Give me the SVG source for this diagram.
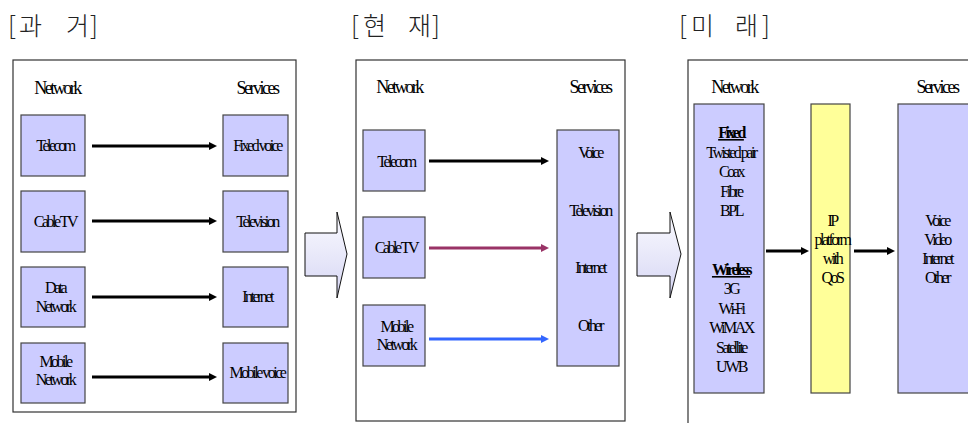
<svg xmlns="http://www.w3.org/2000/svg" width="968" height="423" viewBox="0 0 968 423">
  <defs>
    <linearGradient id="blockFill" x1="0" y1="0" x2="0" y2="1">
      <stop offset="0" stop-color="#fbfbff"/>
      <stop offset="1" stop-color="#d6d6f4"/>
    </linearGradient>
    <marker id="headBlack" markerUnits="userSpaceOnUse" markerWidth="9" markerHeight="9" refX="2" refY="4" orient="auto">
      <path d="M0,0 L8,4 L0,8 Z" fill="#000"/>
    </marker>
    <marker id="headMaroon" markerUnits="userSpaceOnUse" markerWidth="9" markerHeight="9" refX="2" refY="4" orient="auto">
      <path d="M0,0 L8,4 L0,8 Z" fill="#993366"/>
    </marker>
    <marker id="headBlue" markerUnits="userSpaceOnUse" markerWidth="9" markerHeight="9" refX="2" refY="4" orient="auto">
      <path d="M0,0 L8,4 L0,8 Z" fill="#3366ff"/>
    </marker>
  </defs>
  <style>
    .title { font-family: "Noto Sans CJK KR", "Liberation Serif", serif; font-size: 25px; font-weight: 300; fill: #222; }
    .panel { fill: #fff; stroke: #333; stroke-width: 1.2; }
    .box { fill: #ccccff; stroke: #444; stroke-width: 1.2; }
    .ybox { fill: #ffff99; stroke: #444; stroke-width: 1.2; }
    .block { fill: url(#blockFill); stroke: #111; stroke-width: 1; }
    .hd { font-family: "Liberation Serif", "Times New Roman", serif; font-size: 18px; letter-spacing: -2.5px; text-anchor: middle; fill: #000; }
    .t { font-family: "Liberation Serif", "Times New Roman", serif; font-size: 16px; letter-spacing: -2.5px; text-anchor: middle; fill: #000; }
    .b { font-weight: bold; text-decoration: underline; }
    .ln { fill: none; stroke-width: 3; }
  </style>

  <!-- section titles -->
  <text class="title" x="8 19 43 66 90" y="35">[과 거]</text>
  <text class="title" x="351 363 387 408 432" y="35">[현 재]</text>
  <text class="title" x="679 691 715 735 762" y="35">[미 래]</text>

  <!-- panel frames -->
  <g id="panel-past">
    <rect class="panel" x="13" y="60" width="283" height="352"/>
    <text class="hd" x="57" y="94">Network</text>
    <text class="hd" x="257" y="94">Services</text>
  </g>
  <g id="panel-present">
    <rect class="panel" x="356" y="60" width="269" height="361"/>
    <text class="hd" x="399" y="93">Network</text>
    <text class="hd" x="590" y="93">Services</text>
  </g>
  <g id="panel-future">
    <rect class="panel" x="688" y="60" width="320" height="400"/>
    <text class="hd" x="734" y="93">Network</text>
    <text class="hd" x="937" y="93">Services</text>
  </g>

  <!-- transition block arrows -->
  <g id="step-1">
    <path class="block" d="M305,233 H337 V212 L347,254 L337,298 V276 H305 Z"/>
  </g>
  <g id="step-2">
    <path class="block" d="M637,233 H670 V212 L681,254 L670,298 V276 H637 Z"/>
  </g>

  <!-- past: separate networks and services -->
  <g id="past-telecom">
    <rect class="box" x="21" y="115" width="64" height="61"/>
    <text class="t" x="55" y="151">Telecom</text>
  </g>
  <g id="past-cable">
    <rect class="box" x="21" y="191" width="64" height="61"/>
    <text class="t" x="55" y="227">Cable TV</text>
  </g>
  <g id="past-data">
    <rect class="box" x="21" y="267" width="64" height="60"/>
    <text class="t" x="55" y="293">Data</text>
    <text class="t" x="55" y="312">Network</text>
  </g>
  <g id="past-mobile">
    <rect class="box" x="21" y="343" width="64" height="60"/>
    <text class="t" x="55" y="367">Mobile</text>
    <text class="t" x="55" y="385">Network</text>
  </g>
  <g id="past-fixedvoice">
    <rect class="box" x="223" y="115" width="65" height="61"/>
    <text class="t" x="257" y="151">Fixed voice</text>
  </g>
  <g id="past-television">
    <rect class="box" x="223" y="191" width="65" height="61"/>
    <text class="t" x="257" y="227">Television</text>
  </g>
  <g id="past-internet">
    <rect class="box" x="223" y="267" width="65" height="60"/>
    <text class="t" x="257" y="302">Internet</text>
  </g>
  <g id="past-mobilevoice">
    <rect class="box" x="223" y="343" width="65" height="60"/>
    <text class="t" x="257" y="378">Mobile voice</text>
  </g>

  <!-- present: converging services -->
  <g id="present-telecom">
    <rect class="box" x="363" y="130" width="62" height="61"/>
    <text class="t" x="396" y="167">Telecom</text>
  </g>
  <g id="present-cable">
    <rect class="box" x="363" y="217" width="62" height="61"/>
    <text class="t" x="396" y="253">Cable TV</text>
  </g>
  <g id="present-mobile">
    <rect class="box" x="363" y="305" width="62" height="61"/>
    <text class="t" x="396" y="332">Mobile</text>
    <text class="t" x="396" y="350">Network</text>
  </g>
  <g id="present-services">
    <rect class="box" x="557" y="130" width="62" height="236"/>
    <text class="t" x="590" y="158">Voice</text>
    <text class="t" x="590" y="216">Television</text>
    <text class="t" x="590" y="273">Internet</text>
    <text class="t" x="590" y="331">Other</text>
  </g>

  <!-- future: IP platform -->
  <g id="future-network">
    <rect class="box" x="694" y="104" width="70" height="289"/>
    <text class="t b" x="731" y="138">Fixed</text>
    <text class="t" x="731" y="158">Twisted pair</text>
    <text class="t" x="731" y="177">Coax</text>
    <text class="t" x="731" y="197">Fibre</text>
    <text class="t" x="731" y="216">BPL</text>
    <text class="t b" x="731" y="275">Wireless</text>
    <text class="t" x="731" y="294">3G</text>
    <text class="t" x="731" y="314">Wi-Fi</text>
    <text class="t" x="731" y="333">WiMAX</text>
    <text class="t" x="731" y="353">Satellite</text>
    <text class="t" x="731" y="372">UWB</text>
  </g>
  <g id="future-ip">
    <rect class="ybox" x="811" y="104" width="39" height="289"/>
    <text class="t" x="832" y="226">IP</text>
    <text class="t" x="832" y="245">platform</text>
    <text class="t" x="832" y="264">with</text>
    <text class="t" x="832" y="283">QoS</text>
  </g>
  <g id="future-services">
    <rect class="box" x="898" y="104" width="100" height="289"/>
    <text class="t" x="937" y="226">Voice</text>
    <text class="t" x="937" y="245">Video</text>
    <text class="t" x="937" y="264">Internet</text>
    <text class="t" x="937" y="283">Other</text>
  </g>

  <!-- connectors -->
  <g id="connectors">
    <line class="ln" stroke="#000" x1="92" y1="146" x2="211" y2="146" marker-end="url(#headBlack)"/>
    <line class="ln" stroke="#000" x1="92" y1="221" x2="211" y2="221" marker-end="url(#headBlack)"/>
    <line class="ln" stroke="#000" x1="92" y1="297" x2="211" y2="297" marker-end="url(#headBlack)"/>
    <line class="ln" stroke="#000" x1="92" y1="377" x2="211" y2="377" marker-end="url(#headBlack)"/>

    <line class="ln" stroke="#000" x1="429" y1="161" x2="543" y2="161" marker-end="url(#headBlack)"/>
    <line class="ln" stroke="#993366" x1="429" y1="248" x2="543" y2="248" marker-end="url(#headMaroon)"/>
    <line class="ln" stroke="#3366ff" x1="429" y1="339" x2="543" y2="339" marker-end="url(#headBlue)"/>

    <line class="ln" stroke="#000" x1="766" y1="251" x2="803" y2="251" marker-end="url(#headBlack)"/>
    <line class="ln" stroke="#000" x1="854" y1="251" x2="889" y2="251" marker-end="url(#headBlack)"/>
  </g>
</svg>
